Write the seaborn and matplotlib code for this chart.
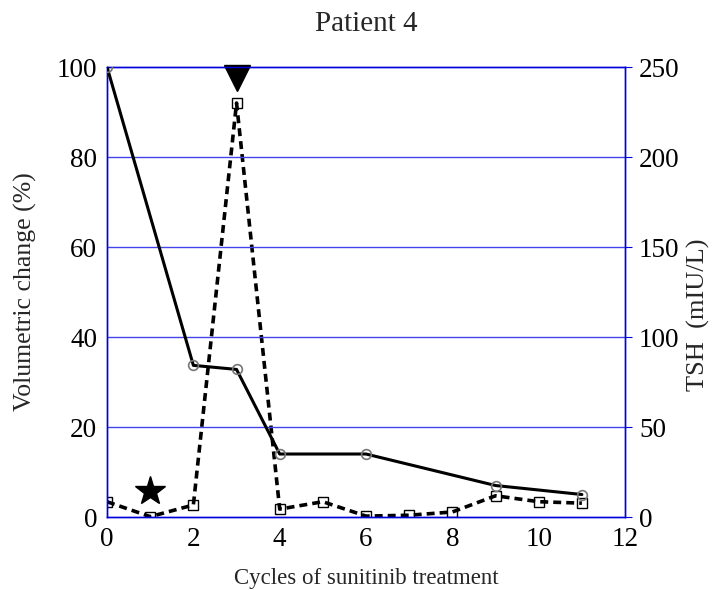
import matplotlib
matplotlib.use("Agg")
import matplotlib.pyplot as plt
import seaborn as sns
import pandas as pd

# volumetric change (%) by cycle
vol_cycles = [0, 2, 3, 4, 6, 9, 11]
vol_change = [100, 33.7, 32.8, 14.0, 14.0, 7.0, 5.0]

# TSH (mIU/L) by cycle
tsh_cycles = [0, 1, 2, 3, 4, 5, 6, 7, 8, 9, 10, 11]
tsh_values = [8.5, 0.2, 6.7, 230, 4.4, 8.5, 0.5, 1.0, 2.8, 11.8, 8.5, 7.7]

# annotation symbols (cycle, volumetric %)
star_pos = (1, 5.8)
tri_pos = (3, 97.5)

sns.set_style("white")
plt.rcParams["font.family"] = ["Liberation Serif", "DejaVu Serif"]

vol = pd.DataFrame({"cycle": vol_cycles, "vol": vol_change})
tsh = pd.DataFrame({"cycle": tsh_cycles, "tsh": tsh_values})

fig = plt.figure(figsize=(7.15, 5.9), dpi=100)
ax = fig.add_axes([0.1497, 0.1237, 0.7245, 0.7627])
ax2 = ax.twinx()

blue = "#0000dd"
for y in [20, 40, 60, 80]:
    ax.axhline(y, color="#4444ee", lw=1.0, zorder=0)

sns.lineplot(data=tsh, x="cycle", y="tsh", ax=ax2, color="black", lw=2.6,
             linestyle=(0, (2.2, 1.4)), marker="s", markersize=7.5,
             markerfacecolor="none", markeredgecolor="black", markeredgewidth=1.0)
sns.lineplot(data=vol, x="cycle", y="vol", ax=ax, color="black", lw=2.2,
             marker="o", markersize=7, markerfacecolor="none",
             markeredgecolor="#777777", markeredgewidth=1.2, zorder=5)
ax.set_zorder(ax2.get_zorder() + 1)
ax.patch.set_visible(False)

ax.plot([star_pos[0]], [star_pos[1]], marker="*", color="black", markersize=22, clip_on=False)
ax.plot([tri_pos[0]], [tri_pos[1]], marker="v", color="black", markersize=19, clip_on=False)

ax.set_xlim(0, 12)
ax.set_ylim(0, 100)
ax2.set_ylim(0, 250)
ax.set_xticks(range(0, 13, 2))
ax.set_yticks(range(0, 101, 20))
ax2.set_yticks(range(0, 251, 50))

for a in (ax, ax2):
    for s in a.spines.values():
        s.set_color(blue)
        s.set_linewidth(1.0)
        s.set_visible(True)
ax.tick_params(axis="both", labelsize=19.5, colors="black", length=0, pad=7)
ax2.tick_params(axis="y", labelsize=19.5, colors="black", length=5, color=blue, pad=5, direction="out")

ax.set_xlabel("Cycles of sunitinib treatment", fontsize=16.5, labelpad=12)
ax.set_ylabel("Volumetric change (%)", fontsize=18.5, labelpad=14)
ax2.set_ylabel("TSH  (mIU/L)", fontsize=19, labelpad=8)
ax2.yaxis.set_label_coords(1.12, 0.45)
ax.set_title("Patient 4", fontsize=21, pad=26)

fig.savefig("out.png", dpi=100)
